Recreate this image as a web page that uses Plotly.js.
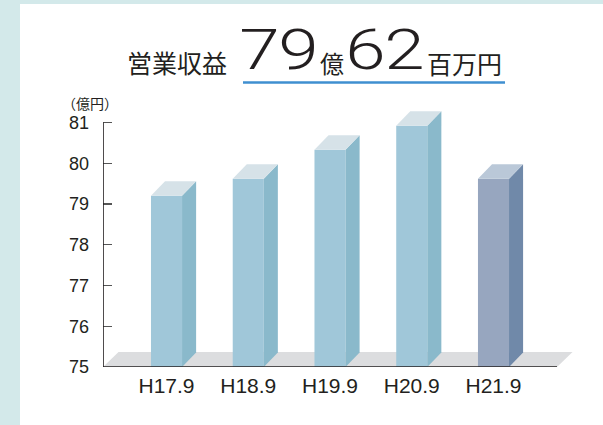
<!DOCTYPE html>
<html>
<head>
<meta charset="utf-8">
<script src="https://cdn.plot.ly/plotly-3.0.1.min.js"></script>
<style>
html,body{margin:0;padding:0;background:#d3e9ea;}
#chart{width:603px;height:425px;}
</style>
</head>
<body>
<div id="chart"></div>
<script>
// ---- data ----
const categories = ['H17.9', 'H18.9', 'H19.9', 'H20.9', 'H21.9'];
const revenue = [79.2, 79.62, 80.33, 80.92, 79.62];   // 億円
const yTickValues = [75, 76, 77, 78, 79, 80, 81];
const frontColors = ['#a0c7d9', '#a0c7d9', '#a0c7d9', '#a0c7d9', '#97a6bf'];
const sideColors  = ['#8ab9cb', '#8ab9cb', '#8ab9cb', '#8ab9cb', '#7089a9'];
const topColors   = ['#d6e2e8', '#d6e2e8', '#d6e2e8', '#d6e2e8', '#bac8d8'];
const yUnitLabel = '（億円）';
const titleParts = ['営業収益', '7', '9', '億', '6', '2', '百万円'];

// ---- layout geometry ----
const W = 603, H = 425;
const M = {l: 103, r: 28, t: 98, b: 58};
const plotW = W - M.l - M.r, plotH = H - M.t - M.b;
const baseVal = 75;
const xRange = [-0.777, 4.997];
const yRange = [75, 81.6];
const barWidth = 0.38;
const depthX = 0.172, depthY = 0.357;
const floorDX = 0.19, floorDY = 0.37;
const xAxisEnd = 4.777;

const px = x => (x - M.l) / plotW;
const py = y => (H - M.b - y) / plotH;

const idx = categories.map((_, i) => i);
const traces = [];

traces.push({
  type: 'bar', x: idx, y: revenue.map(v => v - baseVal), base: baseVal,
  width: barWidth, marker: {color: frontColors, line: {width: 0}},
  hoverinfo: 'skip', showlegend: false
});

idx.forEach(i => {
  const v = revenue[i];
  const xl = i - barWidth / 2, xr = i + barWidth / 2;
  traces.push({
    type: 'scatter', mode: 'lines', fill: 'toself',
    x: [xr, xr + depthX, xr + depthX, xr, xr],
    y: [baseVal, baseVal + depthY, v + depthY, v, baseVal],
    fillcolor: sideColors[i], line: {width: 0, color: sideColors[i]},
    hoverinfo: 'skip', showlegend: false
  });
  traces.push({
    type: 'scatter', mode: 'lines', fill: 'toself',
    x: [xl, xr, xr + depthX, xl + depthX, xl],
    y: [v, v, v + depthY, v + depthY, v],
    fillcolor: topColors[i], line: {width: 0, color: topColors[i]},
    hoverinfo: 'skip', showlegend: false
  });
});

const x0 = xRange[0];
const shapes = [
  {type: 'rect', xref: 'paper', yref: 'paper', x0: px(20), x1: px(603), y0: py(425), y1: py(4),
   fillcolor: '#ffffff', line: {width: 0}, layer: 'below'},
  {type: 'path', xref: 'x', yref: 'y', layer: 'below', fillcolor: '#dcdddf', line: {width: 0},
   path: `M ${x0},${baseVal} L ${xAxisEnd},${baseVal} L ${xAxisEnd + floorDX},${baseVal + floorDY} L ${x0 + floorDX},${baseVal + floorDY} Z`},
  {type: 'line', xref: 'x', yref: 'y', x0: x0, x1: xAxisEnd, y0: baseVal, y1: baseVal,
   line: {color: '#231f20', width: 1.6}},
  {type: 'line', xref: 'x', yref: 'y', x0: x0, x1: x0, y0: yTickValues[0], y1: yTickValues[yTickValues.length - 1],
   line: {color: '#231f20', width: 1.6}},
  {type: 'line', xref: 'paper', yref: 'paper', x0: px(243), x1: px(505), y0: py(82.5), y1: py(82.5),
   line: {color: '#3f8fd0', width: 2.5}}
];

const cjk = '"Noto Sans CJK JP", "Noto Sans", sans-serif';
const dig = 'Roboto, "DejaVu Sans", sans-serif';
const ink = '#231f20';
function ann(text, cx, cy, size, family, weight) {
  return {text: text, xref: 'paper', yref: 'paper', x: px(cx), y: py(cy),
    xanchor: 'center', yanchor: 'middle', showarrow: false,
    font: {size: size, family: family, color: ink, weight: weight || 400}};
}
const annotations = [
  ann(titleParts[0], 176.5, 62.5, 25, cjk),
  ann(titleParts[1], 259.5, 50, 56, dig, 300),
  ann(titleParts[2], 298.5, 50, 56, dig, 300),
  ann(titleParts[3], 332, 63, 24, cjk),
  ann(titleParts[4], 365, 50, 56, dig, 300),
  ann(titleParts[5], 404.5, 50, 56, dig, 300),
  ann(titleParts[6], 464, 63, 25, cjk),
  ann(yUnitLabel, 89.5, 103, 14, cjk)
];

const layout = {
  width: W, height: H, margin: M,
  paper_bgcolor: '#d3e9ea', plot_bgcolor: 'rgba(0,0,0,0)',
  showlegend: false, hovermode: false,
  font: {family: '"Liberation Sans", Arial, sans-serif', color: ink},
  xaxis: {range: xRange, tickvals: idx, ticktext: categories, showgrid: false,
    zeroline: false, showline: false, ticks: '', fixedrange: true,
    tickfont: {size: 21, color: ink}, ticklabelstandoff: 4},
  yaxis: {range: yRange, tickvals: yTickValues, showgrid: false, zeroline: false,
    showline: false, ticks: 'inside', ticklen: 9, tickwidth: 1.3, tickcolor: '#555',
    tickfont: {size: 18, color: ink}, fixedrange: true, ticklabelstandoff: 13},
  shapes: shapes, annotations: annotations
};

Plotly.newPlot('chart', traces, layout, {displayModeBar: false, staticPlot: true}).then(gd => {
  // widen the large title digits (the reference uses a wide face)
  gd.querySelectorAll('.annotation-text').forEach(t => {
    if (/^[0-9]$/.test(t.textContent)) {
      const b = t.getBBox();
      const cx = b.x + b.width / 2;
      t.setAttribute('transform', `translate(${cx},0) scale(1.3,1) translate(${-cx},0)`);
    }
  });
});
</script>
</body>
</html>
